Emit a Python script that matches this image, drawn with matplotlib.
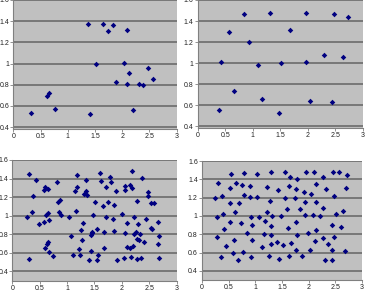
import matplotlib
matplotlib.use("Agg")
import matplotlib.pyplot as plt

plt.rcParams['font.family'] = ['Liberation Sans', 'DejaVu Sans']

# Panel 1 (top-left)
x1 = [0.32, 0.62, 0.66, 0.765, 1.365, 1.41, 1.51, 1.65, 1.73, 1.83, 1.88, 2.03, 2.09, 2.09, 2.13, 2.19, 2.30, 2.39, 2.48, 2.57]
y1 = [0.53, 0.69, 0.72, 0.57, 1.378, 0.52, 1.00, 1.37, 1.31, 1.365, 0.83, 1.01, 1.315, 0.805, 0.915, 0.56, 0.81, 0.80, 0.96, 0.85]

# Panel 2 (top-right)
x2 = [0.38, 0.43, 0.57, 0.66, 0.84, 0.93, 1.10, 1.16, 1.315, 1.485, 1.52, 1.67, 1.97, 1.97, 2.04, 2.29, 2.45, 2.47, 2.65, 2.73]
y2 = [0.55, 1.01, 1.30, 0.735, 1.463, 1.20, 0.982, 0.656, 1.479, 0.527, 1.00, 1.315, 1.479, 1.01, 0.64, 1.08, 0.634, 1.47, 1.058, 1.44]

# Panel 3 (bottom-left)
x3 = [0.305, 0.426, 0.377, 0.274, 0.359, 0.298, 0.493, 0.572, 0.572, 0.60, 0.655, 0.615, 0.645, 0.675,
      0.596, 0.627, 0.657, 0.675, 0.749, 0.81, 0.834, 0.846, 0.876, 0.883, 1.035, 1.07, 1.114, 1.144,
      1.18, 1.18, 1.168, 1.21, 1.236, 1.254, 1.278, 1.29, 1.30, 1.35, 1.345, 1.36, 1.40, 1.436, 1.45,
      1.455, 1.44, 1.48, 1.51, 1.54, 1.55, 1.56, 1.607, 1.62, 1.655, 1.674, 1.68, 1.71, 1.704, 1.753,
      1.777, 1.80, 1.83, 1.85, 1.856, 1.887, 1.905, 2.00, 2.03, 2.057, 2.063, 2.057, 2.09, 2.09, 2.148,
      2.15, 2.16, 2.18, 2.19, 2.21, 2.22, 2.226, 2.26, 2.276, 2.276, 2.28, 2.30, 2.32, 2.337, 2.355,
      2.37, 2.40, 2.44, 2.48, 2.48, 2.525, 2.545, 2.53, 2.59, 2.66, 2.66, 2.68, 2.68]
y3 = [1.447, 1.389, 1.215, 0.987, 1.041, 0.534, 0.914, 0.933, 1.273, 1.306, 1.291, 1.012, 1.027, 0.958,
      0.654, 0.69, 0.72, 0.603, 0.567, 1.36, 1.143, 1.041, 1.168, 1.005, 0.98, 0.78, 0.574, 1.266,
      1.443, 1.306, 1.052, 0.635, 0.574, 0.842, 0.733, 0.925, 1.23, 1.266, 1.382, 1.222, 0.52, 0.791, 0.824,
      0.81, 0.62, 1.005, 1.15, 0.857, 0.52, 0.574, 1.465, 1.378, 1.107, 0.828, 0.646, 1.313, 0.987, 1.146,
      1.414, 1.364, 0.962, 1.11, 0.83, 1.262, 0.52, 1.016, 0.541, 1.28, 1.32, 0.81, 0.922, 0.657, 0.654,
      1.328, 0.559, 1.302, 1.483, 0.668, 0.802, 0.99, 0.82, 0.53, 1.157, 0.744, 0.91, 0.737, 0.802, 0.541,
      1.407, 0.72, 0.969, 1.255, 1.208, 0.867, 0.857, 1.136, 1.132, 0.936, 0.697, 0.78, 0.541]

# Panel 4 (bottom-right)
x4 = [0.25, 0.275, 0.288, 0.306, 0.35, 0.38, 0.39, 0.41, 0.456, 0.525, 0.52, 0.525, 0.55, 0.58, 0.606,
      0.62, 0.64, 0.675, 0.694, 0.74, 0.744, 0.77, 0.78, 0.79, 0.84, 0.90, 0.894, 0.92, 0.93, 0.93,
      0.925, 1.04, 1.04, 1.07, 1.12, 1.156, 1.19, 1.21, 1.225, 1.25, 1.275, 1.29, 1.29, 1.30, 1.30,
      1.32, 1.406, 1.43, 1.45, 1.49, 1.525, 1.55, 1.56, 1.59, 1.606, 1.64, 1.64, 1.656, 1.67, 1.74,
      1.76, 1.775, 1.77, 1.77, 1.78, 1.84, 1.88, 1.906, 1.93, 1.94, 1.956, 1.99, 2.02, 2.04, 2.09,
      2.106, 2.11, 2.13, 2.14, 2.14, 2.206, 2.27, 2.275, 2.275, 2.30, 2.325, 2.356, 2.444, 2.444, 2.444,
      2.45, 2.47, 2.48, 2.506, 2.575, 2.606, 2.65, 2.69, 2.70, 2.72]
y4 = [1.193, 0.99, 0.773, 1.364, 0.552, 1.215, 1.016, 0.853, 0.672, 1.302, 1.139, 0.929, 1.458, 0.596, 0.737,
      1.045, 1.357, 0.52, 1.139, 0.918, 1.335, 0.607, 1.226, 1.472, 0.809, 1.328, 1.208, 0.99, 0.896, 0.737,
      0.549, 1.204, 1.457, 0.987, 0.657, 0.80, 0.94, 1.041, 1.313, 0.567, 1.161, 1.48, 0.69, 0.788, 0.893,
      0.998, 0.715, 1.284, 0.53, 0.998, 0.683, 1.483, 1.193, 1.078, 0.871, 0.563, 1.324, 1.42, 0.70, 1.193,
      1.295, 1.407, 0.929, 0.625, 0.788, 1.081, 0.56, 1.259, 1.15, 1.009, 1.48, 0.817, 0.632, 1.237, 1.009,
      1.48, 0.73, 1.346, 1.15, 0.849, 1.001, 1.085, 1.428, 0.759, 0.523, 1.295, 0.69, 0.90, 0.632, 0.523,
      1.48, 0.773, 1.222, 1.02, 1.48, 0.875, 1.052, 0.621, 1.302, 1.447]

xticks = [0, 0.5, 1, 1.5, 2, 2.5, 3]
xticklabels = ["0", "0.5", "1", "1.5", "2", "2.5", "3"]
yticks = [0.4, 0.6, 0.8, 1.0, 1.2, 1.4, 1.6]
yticklabels = ["0.4", "0.6", "0.8", "1", "1.2", "1.4", "1.6"]

W, H = 365, 298
fig = plt.figure(figsize=(W / 100, H / 100), dpi=100)

panels = [
    (x1, y1, (13.3, 0, 176.7, 129.3), 0.38),
    (x2, y2, (197.7, 0, 362.7, 128.3), 0.38),
    (x3, y3, (12.3, 160, 176.7, 281), 0.295),
    (x4, y4, (202, 161, 362, 280), 0.30),
]

for xs, ys, (l, t, r, b), ymin in panels:
    ax = fig.add_axes([l / W, 1 - b / H, (r - l) / W, (b - t) / H])
    ax.set_facecolor('#c0c0c0')
    ax.set_xlim(0, 3)
    ax.set_ylim(ymin, 1.6)
    ax.set_xticks(xticks)
    ax.set_xticklabels(xticklabels)
    ax.set_yticks(yticks)
    ax.set_yticklabels(yticklabels)
    for yv in yticks:
        ax.axhline(yv, color='#646464', lw=1.1, zorder=1)
    ax.scatter(xs, ys, marker='D', s=8, color='#000080', zorder=3, linewidths=0)
    for side in ['top', 'right']:
        ax.spines[side].set_visible(False)
    for side in ['left', 'bottom']:
        ax.spines[side].set_color('#808080')
        ax.spines[side].set_linewidth(0.8)
    ax.tick_params(axis='both', labelsize=5, colors='#808080', length=2, width=0.6,
                   labelcolor='#222222', pad=1)

fig.savefig('out.png', dpi=100)
